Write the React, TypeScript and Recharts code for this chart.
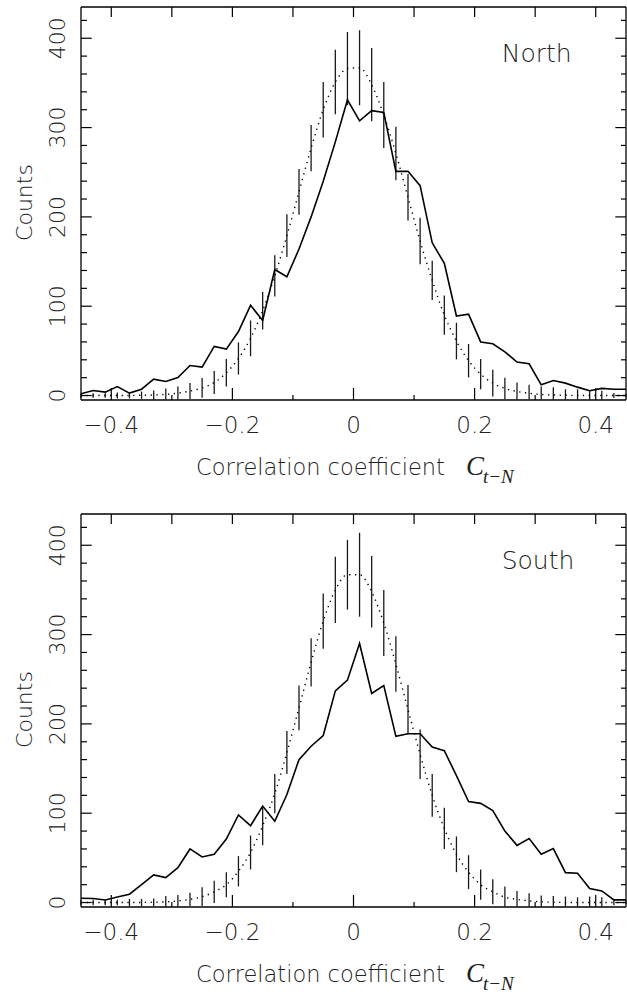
import React from 'react';
import { LineChart, Line, XAxis, YAxis, ErrorBar } from 'recharts';

const bins = [
  -0.45, -0.43, -0.41, -0.39, -0.37, -0.35, -0.33, -0.31, -0.29, -0.27, -0.25, -0.23,
  -0.21, -0.19, -0.17, -0.15, -0.13, -0.11, -0.09, -0.07, -0.05, -0.03, -0.01,
  0.01, 0.03, 0.05, 0.07, 0.09, 0.11, 0.13, 0.15, 0.17, 0.19, 0.21, 0.23, 0.25,
  0.27, 0.29, 0.31, 0.33, 0.35, 0.37, 0.39, 0.41, 0.43, 0.45,
];

const northCounts = [
  2, 5.6, 3.8, 10, 2.7, 7.1, 18.3, 15.7, 20.2, 33.6, 31.8, 55,
  52, 71.7, 101, 84, 141, 133, 164, 200, 240, 284, 331,
  307.6, 319, 317, 251, 251, 235, 171, 148, 89, 91, 60, 58, 49,
  37.5, 35.5, 12, 16.8, 13.9, 9.4, 5.3, 8, 7, 7,
];
const northFit = [
  0, 0, 0, 0, 0.1, 0.3, 0.6, 1.3, 2.6, 5, 8.5, 14.6,
  25.4, 41.5, 64, 95, 134, 179, 228, 277, 320, 351, 366,
  367, 348, 314, 271, 222, 173, 129, 90, 61, 39, 24, 14, 8,
  4.5, 2.5, 1.2, 0.6, 0.3, 0.1, 0, 0, 0, 0,
];
const northErr = [
  2.5, 2.6, 2.6, 3.4, 3.3, 4.2, 5, 6.5, 7.5, 9, 11, 13,
  15.4, 18, 20, 21, 23, 24, 25.5, 26, 31, 36, 41,
  42, 41, 37, 30, 26, 26, 22, 22, 20.5, 18.7, 17, 15, 12,
  10, 9.5, 9, 8.8, 6.7, 6.9, 5.3, 5.3, 2.7, 2,
];

const southCounts = [
  4.8, 4.5, 2.9, 6.3, 9.3, 20, 31, 28, 39, 60, 51, 54,
  71, 98, 86, 108, 91, 121, 160, 175, 187, 237, 249,
  290, 234, 243, 186, 189, 189, 174, 170, 142, 113, 111, 103, 80,
  64, 71.6, 54, 60.4, 33.5, 32.8, 15.6, 13, 3, 3,
];
const southFit = [
  0, 0, 0, 0, 0, 0.1, 0.3, 0.8, 1.8, 3.5, 6.5, 12,
  20, 35, 56, 86, 122, 168, 218, 269, 315, 350, 367,
  367, 348, 313, 267, 216, 166, 120, 83, 54, 34, 20, 12, 6,
  3.5, 1.8, 0.8, 0.3, 0.1, 0, 0, 0, 0, 0,
];
const southErr = [
  2.5, 3, 3, 3, 4, 4, 4.2, 6.6, 6.7, 7.5, 10.5, 12.5,
  14, 17, 19, 22, 22, 24, 25, 27, 31, 37, 39,
  47, 40, 37, 31, 27.5, 27.6, 24, 23, 20, 19, 17, 14, 12,
  9.5, 8.6, 7.2, 7.1, 6.6, 5.8, 6.7, 5.8, 3, 2,
];

const xTicks = [-0.4, -0.3, -0.2, -0.1, 0, 0.1, 0.2, 0.3, 0.4];
const xTickLabels = ['\u22120.4', '', '\u22120.2', '', '0', '', '0.2', '', '0.4'];
const yTicks = [0, 20, 40, 60, 80, 100, 120, 140, 160, 180, 200, 220, 240, 260, 280, 300, 320, 340, 360, 380, 400, 420];
const yTickLabels = ['0', '', '', '', '', '100', '', '', '', '', '200', '', '', '', '', '300', '', '', '', '', '400', ''];
const panelNames = ['North', 'South'];
const xTitle = 'Correlation coefficient';
const yTitle = 'Counts';

const FONT = '"DejaVu Sans", "Liberation Sans", sans-serif';
const WEIGHT = 200;
const SERIF = '"Liberation Serif", "DejaVu Serif", serif';
const INK = '#222';
const FRAME = { stroke: '#000', strokeWidth: 1.3 };

function buildRows(counts: number[], fit: number[], err: number[]) {
  return bins.map((x, i) => ({
    x,
    obs: counts[i],
    fit: fit[i],
    err: [Math.min(err[i], fit[i] + 4.5), err[i]],
  }));
}

const BottomTick = (props: any) => {
  const { x, y, payload } = props;
  const idx = xTicks.indexOf(payload.value);
  const label = idx >= 0 ? xTickLabels[idx] : '';
  const major = label !== '';
  return (
    <g>
      <line x1={x} x2={x} y1={y} y2={y - (major ? 12 : 5)} stroke="#000" strokeWidth={1.2} />
      {major && (
        <text x={x} y={y + 33} textAnchor="middle" fontFamily={FONT} fontWeight={WEIGHT} fontSize={23} fill={INK}>
          {label}
        </text>
      )}
    </g>
  );
};

const TopTick = (props: any) => {
  const { x, y } = props;
  return <line x1={x} x2={x} y1={y} y2={y + 10} stroke="#000" strokeWidth={1.2} />;
};

const LeftTick = (props: any) => {
  const { x, y, payload } = props;
  const idx = yTicks.indexOf(payload.value);
  const label = idx >= 0 ? yTickLabels[idx] : '';
  const major = label !== '';
  const tx = x - 16;
  return (
    <g>
      <line x1={x} x2={x + (major ? 10.7 : 6)} y1={y} y2={y} stroke="#000" strokeWidth={1.2} />
      {major && (
        <text
          x={tx}
          y={y}
          transform={`rotate(-90 ${tx} ${y})`}
          textAnchor="middle"
          fontFamily={FONT}
          fontWeight={WEIGHT}
          fontSize={22}
          fill={INK}
        >
          {label}
        </text>
      )}
    </g>
  );
};

const RightTick = (props: any) => {
  const { x, y, payload } = props;
  const idx = yTicks.indexOf(payload.value);
  const major = idx >= 0 && yTickLabels[idx] !== '';
  return <line x1={x} x2={x - (major ? 10.7 : 5)} y1={y} y2={y} stroke="#000" strokeWidth={1.2} />;
};

const XTitle = (props: any) => {
  const vb = props.viewBox || {};
  const x0 = vb.x ?? 81;
  const yAxis = vb.y ?? 400;
  const name = props.name as string;
  return (
    <g>
      <text x={196} y={yAxis + 75} fontFamily={FONT} fontWeight={WEIGHT} fontSize={22.5} fill={INK}>
        {xTitle}
      </text>
      <text x={466} y={yAxis + 75} fontFamily={SERIF} fontStyle="italic" fontSize={27} fill={INK}>
        C
      </text>
      <text x={483} y={yAxis + 83} fontFamily={SERIF} fontStyle="italic" fontSize={19} fill={INK}>
        {'t\u2212N'}
      </text>
      <text x={x0 + 420.7} y={yAxis - 338.3} fontFamily={FONT} fontWeight={WEIGHT} fontSize={25} fill={INK}>
        {name}
      </text>
    </g>
  );
};

const YTitle = (props: any) => {
  const vb = props.viewBox || {};
  const cy = (vb.y ?? 7) + (vb.height ?? 393) / 2 - 1;
  const tx = 32;
  return (
    <text x={tx} y={cy} transform={`rotate(-90 ${tx} ${cy})`} textAnchor="middle" fontFamily={FONT} fontWeight={WEIGHT} fontSize={22} fill={INK}>
      {yTitle}
    </text>
  );
};

function Panel({ rows, name, height, bottom }: { rows: any[]; name: string; height: number; bottom: number }) {
  return (
    <LineChart width={627} height={height} data={rows} margin={{ top: 6, right: 0, left: 80, bottom }}>
      <XAxis
        dataKey="x"
        type="number"
        domain={[-0.45, 0.45]}
        ticks={xTicks}
        interval={0}
        height={1}
        tickSize={0}
        tickMargin={0}
        tickLine={false}
        axisLine={FRAME}
        tick={<BottomTick />}
        label={<XTitle name={name} />}
        allowDataOverflow
      />
      <XAxis
        xAxisId="top"
        orientation="top"
        dataKey="x"
        type="number"
        domain={[-0.45, 0.45]}
        ticks={xTicks}
        interval={0}
        height={1}
        tickSize={0}
        tickMargin={0}
        tickLine={false}
        axisLine={FRAME}
        tick={<TopTick />}
        allowDataOverflow
      />
      <YAxis
        type="number"
        domain={[-5, 435]}
        ticks={yTicks}
        interval={0}
        width={1}
        tickSize={0}
        tickMargin={0}
        tickLine={false}
        axisLine={FRAME}
        tick={<LeftTick />}
        label={<YTitle />}
        allowDataOverflow
      />
      <YAxis
        yAxisId="right"
        orientation="right"
        type="number"
        domain={[-5, 435]}
        ticks={yTicks}
        interval={0}
        width={1}
        tickSize={0}
        tickMargin={0}
        tickLine={false}
        axisLine={FRAME}
        tick={<RightTick />}
        allowDataOverflow
      />
      <Line
        dataKey="fit"
        type="monotone"
        stroke="#000"
        strokeWidth={1.4}
        strokeDasharray="1.3 4.5"
        dot={false}
        activeDot={false}
        isAnimationActive={false}
      >
        <ErrorBar dataKey="err" direction="y" width={0} stroke="#1a1a1a" strokeWidth={1.3} isAnimationActive={false} />
      </Line>
      <Line
        dataKey="obs"
        type="linear"
        stroke="#000"
        strokeWidth={1.6}
        dot={false}
        activeDot={false}
        isAnimationActive={false}
      />
    </LineChart>
  );
}

export default function App() {
  const north = buildRows(northCounts, northFit, northErr);
  const south = buildRows(southCounts, southFit, southErr);
  return (
    <div style={{ position: 'absolute', left: 0, top: 0, width: 627, height: 996, background: '#fff', overflow: 'hidden' }}>
      <div style={{ position: 'absolute', left: 0, top: 0 }}>
        <Panel rows={north} name={panelNames[0]} height={507} bottom={106} />
      </div>
      <div style={{ position: 'absolute', left: 0, top: 507 }}>
        <Panel rows={south} name={panelNames[1]} height={489} bottom={88} />
      </div>
    </div>
  );
}
